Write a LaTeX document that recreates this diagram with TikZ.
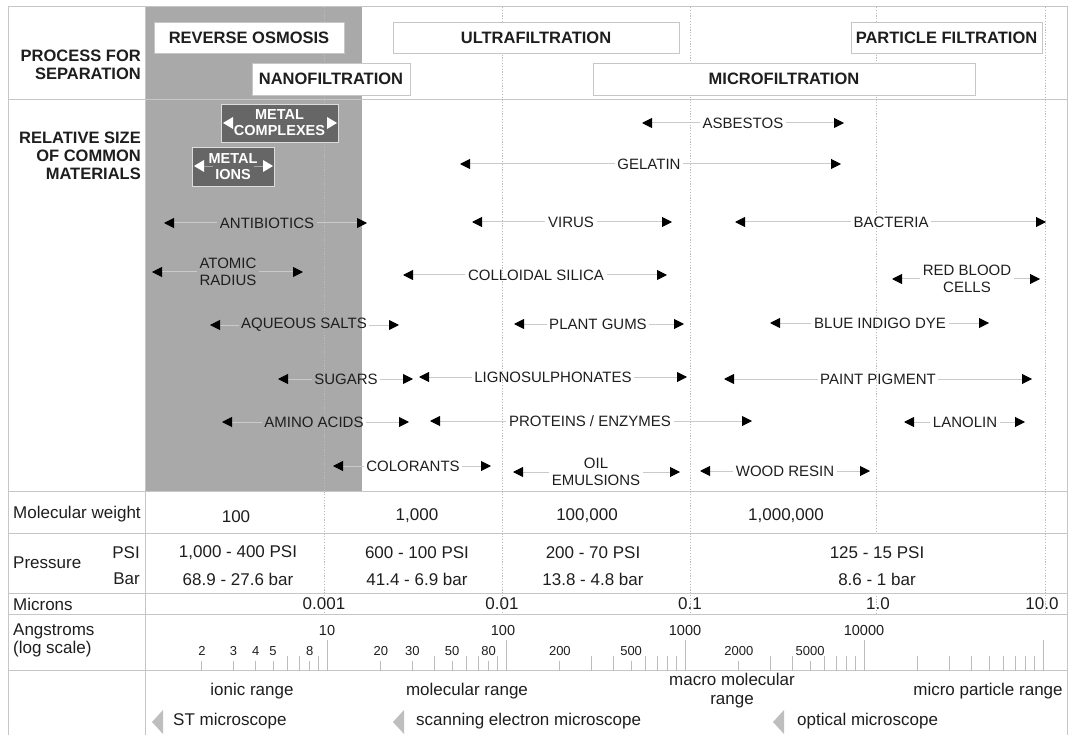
\documentclass[tikz,border=0pt]{standalone}
\usepackage{fontspec}
\setmainfont{Liberation Sans}
\usetikzlibrary{arrows.meta}
\definecolor{txt}{HTML}{1E1E1E}
\definecolor{rulec}{HTML}{C6C6C6}
\definecolor{gridc}{HTML}{BBBBBB}
\definecolor{bandc}{HTML}{A9A9A9}
\definecolor{metalc}{HTML}{666666}
\definecolor{alinec}{HTML}{CACACA}
\definecolor{scopec}{HTML}{BEBEBE}
\definecolor{tickc}{HTML}{BDBDBD}
\newcommand{\fsz}[2]{\fontsize{#1}{#2}\selectfont}
\newcommand{\matarr}[6]{%
  \coordinate (#1-l) at (#2,#5);
  \coordinate (#1-r) at (#3,#5);
  \node[matlbl] (#1) at (#4,#5) {#6};
  \draw[matline] (#1) -- (#1-l);
  \draw[matline] (#1) -- (#1-r);
}
\begin{document}
\begin{tikzpicture}[x=1pt,y=-1pt,
  rulel/.style={draw=rulec, line width=1pt},
  gridline/.style={draw=gridc, line width=0.7pt, dash pattern=on 1.2pt off 1.6pt},
  hdrbox/.style={draw=rulec, fill=white, line width=0.9pt, inner sep=0pt, font=\fsz{16.5}{18}\bfseries, text=txt},
  sidelbl/.style={anchor=east, align=right, inner sep=0pt, font=\fsz{16.5}{18}\bfseries, text=txt},
  matlbl/.style={align=center, inner sep=2.5pt, font=\fsz{15}{17}, text=txt},
  matline/.style={draw=alinec, line width=1pt, -{Triangle[length=10pt,width=10pt,color=black]}},
  metalbox/.style={draw=rulec!60, fill=metalc, line width=0.9pt, inner sep=0pt, align=center, font=\fsz{14.5}{16}\bfseries, text=white},
  tbl/.style={inner sep=0pt, font=\fsz{17}{19}, text=txt},
  tbll/.style={tbl, anchor=west},
  ticklbl/.style={inner sep=0pt, font=\fsz{13}{14}, text=txt},
  declbl/.style={inner sep=0pt, font=\fsz{14.5}{16}, text=txt},
  tickl/.style={draw=tickc, line width=1pt}
]
\useasboundingbox (0,0) rectangle (1068,735);

% shaded reverse osmosis / nanofiltration band
\fill[bandc] (145,7) rectangle (362,491);

% dotted gridlines
\foreach \gx in {324,502,690,1045} \draw[gridline] (\gx,7) -- (\gx,614);
\draw[gridline] (876,7) -- (876,533);
\draw[gridline] (876,593) -- (876,614);

% frame and rows
\draw[rulel] (8,735) -- (8,7) -- (1067,7) -- (1067,735);
\foreach \hy in {100,491,533,593,614,670} \draw[rulel] (8,\hy) -- (1067,\hy);
\draw[rulel] (145,7) -- (145,735);

% header boxes
\node[hdrbox, minimum width=190, minimum height=31] (ro) at (249,37.5) {REVERSE OSMOSIS};
\node[hdrbox, minimum width=286, minimum height=31] (uf) at (536,37.5) {ULTRAFILTRATION};
\node[hdrbox, minimum width=191, minimum height=31] (pf) at (946.5,37.5) {PARTICLE FILTRATION};
\node[hdrbox, minimum width=158, minimum height=32] (nf) at (331,79) {NANOFILTRATION};
\node[hdrbox, minimum width=382, minimum height=32] (mf) at (784,79) {MICROFILTRATION};

% side labels
\node[sidelbl] (proc) at (141,65) {PROCESS FOR\\SEPARATION};
\node[sidelbl] (rel) at (141,156) {RELATIVE SIZE\\OF COMMON\\MATERIALS};

% metal boxes
\node[metalbox, minimum width=117, minimum height=38] (mc) at (279.5,123) {METAL\\COMPLEXES};
\node[metalbox, minimum width=82, minimum height=39] (mi) at (233,166.5) {METAL\\IONS};
\fill[white] (223,123) -- (233,117) -- (233,129) -- cycle;
\fill[white] (337,123) -- (327,117) -- (327,129) -- cycle;
\fill[white] (194,166) -- (204,160) -- (204,172) -- cycle;
\fill[white] (273,166) -- (263,160) -- (263,172) -- cycle;
\draw[draw=gray!70, line width=0.6pt] (204,166) -- (213,166) (254,166) -- (263,166);

% materials
\matarr{asb}{642}{844}{743}{123}{ASBESTOS}
\matarr{gel}{460}{841}{649}{164}{GELATIN}
\matarr{anti}{164}{367}{267}{223}{ANTIBIOTICS}
\matarr{vir}{472}{672}{571}{222}{VIRUS}
\matarr{bac}{735}{1046}{891}{222}{BACTERIA}
\matarr{atom}{152}{303}{228}{272}{ATOMIC\\RADIUS}
\matarr{coll}{403}{667}{536}{275}{COLLOIDAL SILICA}
\matarr{rbc}{892}{1040}{967}{279}{RED BLOOD\\CELLS}
\matarr{aq}{210}{399}{304}{325}{AQUEOUS SALTS}
\matarr{gum}{514}{684}{598}{324}{PLANT GUMS}
\matarr{dye}{770}{989}{880}{323}{BLUE INDIGO DYE}
\matarr{sug}{278}{413}{346}{379}{SUGARS}
\matarr{lig}{419}{687}{553}{377}{LIGNOSULPHONATES}
\matarr{paint}{724}{1032}{878}{379}{PAINT PIGMENT}
\matarr{amino}{222}{409}{314}{422}{AMINO ACIDS}
\matarr{prot}{430}{752}{590}{421}{PROTEINS / ENZYMES}
\matarr{lan}{904}{1025}{965}{422}{LANOLIN}
\matarr{col}{333}{491}{413}{466}{COLORANTS}
\matarr{oil}{513}{680}{596}{472}{OIL\\EMULSIONS}
\matarr{wood}{700}{870}{785}{471}{WOOD RESIN}

% molecular weight row
\node[tbll] (mwl) at (13,514) {Molecular weight};
\node[tbl] (mw1) at (236,517) {100};
\node[tbl] (mw2) at (417,516) {1,000};
\node[tbl] (mw3) at (587,516) {100,000};
\node[tbl] (mw4) at (786,516) {1,000,000};

% pressure row
\node[tbll] (prl) at (13,563) {Pressure};
\node[tbl, anchor=east] (psil) at (140,553) {PSI};
\node[tbl, anchor=east] (barl) at (140,579) {Bar};
\node[tbl] (p1) at (238,553) {1,000 - 400 PSI};
\node[tbl] (b1) at (238,579) {68.9 - 27.6 bar};
\node[tbl] (p2) at (417,553) {600 - 100 PSI};
\node[tbl] (b2) at (417,579) {41.4 - 6.9 bar};
\node[tbl] (p3) at (593,553) {200 - 70 PSI};
\node[tbl] (b3) at (593,579) {13.8 - 4.8 bar};
\node[tbl] (p4) at (877,553) {125 - 15 PSI};
\node[tbl] (b4) at (877,579) {8.6 - 1 bar};

% microns row
\node[tbll] (mic) at (13,604) {Microns};
\node[tbl] (u1) at (324,604) {0.001};
\node[tbl] (u2) at (502,604) {0.01};
\node[tbl] (u3) at (690,604) {0.1};
\node[tbl] (u4) at (878,604) {1.0};
\node[tbl] (u5) at (1042,604) {10.0};

% angstroms row
\node[tbll] (ang) at (13,631) {Angstroms};
\node[tbll] (angs) at (13,649) {(log scale)};
\foreach \k in {0,...,4} {
  \pgfmathsetmacro\tx{327+179*\k}
  \draw[tickl] (\tx,640) -- (\tx,671);
}
\foreach \v/\lx in {10/327,100/503,1000/685,10000/864}
  \node[declbl] at (\lx,631) {\v};
\foreach \m/\e in {6/-1,7/-1,9/-1,4/0,6/0,7/0,9/0,3/1,4/1,6/1,7/1,8/1,9/1,3/2,4/2,6/2,7/2,8/2,9/2,2/3,3/3,4/3,5/3,6/3,7/3,8/3,9/3} {
  \pgfmathsetmacro\tx{327+179*(\e+ln(\m)/2.302585)}
  \draw[tickl] (\tx,656) -- (\tx,671);
}
\foreach \m/\e/\lab in {2/-1/2,3/-1/3,4/-1/4,5/-1/5,8/-1/8,2/0/20,3/0/30,5/0/50,8/0/80,2/1/200,5/1/500,2/2/2000,5/2/5000} {
  \pgfmathsetmacro\tx{327+179*(\e+ln(\m)/2.302585)}
  \draw[tickl] (\tx,661) -- (\tx,671);
  \node[ticklbl] at (\tx,651) {\lab};
}

% range row
\node[tbl] (ion) at (252,691) {ionic range};
\node[tbl] (mol) at (467,691) {molecular range};
\node[tbl, align=center, font=\fsz{17}{19}] (mac) at (732,691) {macro molecular\\range};
\node[tbl] (mpr) at (988,691) {micro particle range};
\fill[scopec] (152,722) -- (163,710) -- (163,734) -- cycle;
\node[tbll] (stm) at (173,721) {ST microscope};
\fill[scopec] (393,722) -- (404,710) -- (404,734) -- cycle;
\node[tbll] (sem) at (416,721) {scanning electron microscope};
\fill[scopec] (773,722) -- (784,710) -- (784,734) -- cycle;
\node[tbll] (opt) at (797,721) {optical microscope};
\end{tikzpicture}
\end{document}
